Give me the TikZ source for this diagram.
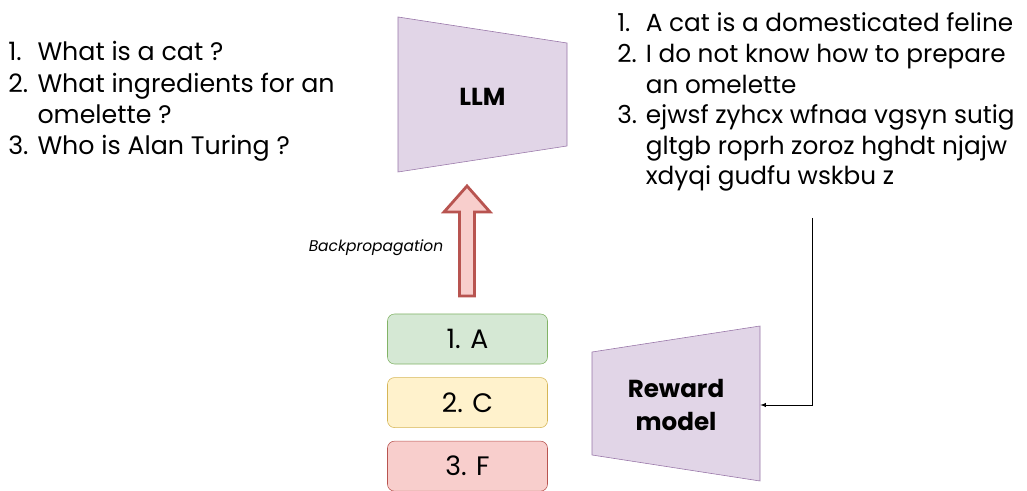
\documentclass[tikz,border=0pt]{standalone}
\usepackage{fontspec}
\setmainfont{Poppins}
\usetikzlibrary{%
  arrows,%
  positioning,%
}
\definecolor{llmfill}{HTML}{E1D5E7}
\definecolor{llmdraw}{HTML}{9673A6}
\definecolor{goodfill}{HTML}{D5E8D4}
\definecolor{gooddraw}{HTML}{82B366}
\definecolor{midfill}{HTML}{FFF2CC}
\definecolor{middraw}{HTML}{D6B656}
\definecolor{badfill}{HTML}{F8CECC}
\definecolor{baddraw}{HTML}{B85450}
\tikzset{
  txt/.style={font=\fontsize{18}{22.1}\selectfont, inner sep=0pt},
  bigtxt/.style={font=\fontsize{17.5}{23.5}\bfseries, inner sep=0pt, align=center},
  grade/.style={draw, rounded corners=5pt, minimum width=4.0cm, minimum height=1.25cm,
    font=\fontsize{19}{22.7}\selectfont},
}

\begin{document}
\begin{tikzpicture}[x=0.025cm, y=-0.025cm]
\useasboundingbox (0,0) rectangle (1027,491);
% questions and answers
\node[txt, anchor=base west] (questions) at (8,61) {\begin{tabular}[t]{@{}l@{ }l@{}}
1. & What is a cat ?\\
2. & What ingredients for an\\
   & omelette ?\\
3. & Who is Alan Turing ?
\end{tabular}};
\node[txt, font=\fontsize{17.6}{21.7}\selectfont, anchor=base west] (answers) at (617,32) {\begin{tabular}[t]{@{}l@{ }l@{}}
1. & A cat is a domesticated feline\\
2. & I do not know how to prepare\\
   & an omelette\\
3. & ejwsf zyhcx wfnaa vgsyn sutig\\
   & gltgb roprh zoroz hghdt njajw\\
   & xdyqi gudfu wskbu z
\end{tabular}};
% models
\draw[llmdraw, fill=llmfill] (398,17) -- (567,43) -- (567,146) -- (398,172) -- cycle;
\node[bigtxt, minimum width=4.225cm] (llm) at (482.5,97) {LLM};
\draw[llmdraw, fill=llmfill] (592,352) -- (760,326) -- (760,481) -- (592,455) -- cycle;
\node[bigtxt, minimum width=4.2cm] (reward) at (676,405) {Reward\\model};
% grades
\node[grade, draw=gooddraw, fill=goodfill] (gradeA) at (467.5,339) {1. A};
\node[grade, draw=middraw, fill=midfill, below=0.325cm of gradeA] (gradeC) {2. C};
\node[grade, draw=baddraw, fill=badfill, below=0.325cm of gradeC] (gradeF) {3. F};
% backpropagation
\draw[baddraw, fill=badfill, line width=2pt, line join=miter]
  (467,186) -- (490,212) -- (474.5,212) -- (474.5,296) -- (459.5,296) -- (459.5,212) -- (444,212) -- cycle;
\node[font=\fontsize{11}{13}\itshape, inner sep=0pt] (backprop) at (376,248) {Backpropagation};
\coordinate (feedback) at (812,218);
\draw[-latex] (feedback) |- (reward.east);
\end{tikzpicture}
\end{document}
